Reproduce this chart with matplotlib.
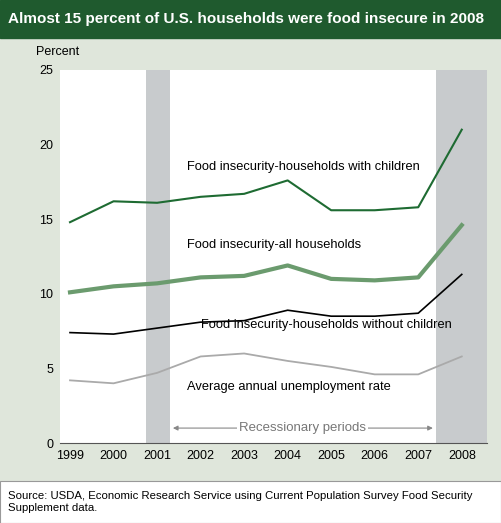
import matplotlib
matplotlib.use("Agg")
import matplotlib.pyplot as plt
from matplotlib.patches import Rectangle

years = [1999, 2000, 2001, 2002, 2003, 2004, 2005, 2006, 2007, 2008]
with_children = [14.8, 16.2, 16.1, 16.5, 16.7, 17.6, 15.6, 15.6, 15.8, 21.0]
all_households = [10.1, 10.5, 10.7, 11.1, 11.2, 11.9, 11.0, 10.9, 11.1, 14.6]
without_children = [7.4, 7.3, 7.7, 8.1, 8.2, 8.9, 8.5, 8.5, 8.7, 11.3]
unemployment = [4.2, 4.0, 4.7, 5.8, 6.0, 5.5, 5.1, 4.6, 4.6, 5.8]
recessions = [(2000.74, 2001.3), (2007.4, 2008.6)]

W, H = 501, 523
fig = plt.figure(figsize=(W/100, H/100), dpi=100)
fig.patch.set_facecolor("#dfe6db")
fig.add_artist(Rectangle((0, 1-38/H), 1, 38/H, transform=fig.transFigure, color="#1f5a2e"))
fig.text(8/W, 1-19/H, "Almost 15 percent of U.S. households were food insecure in 2008",
         color="white", fontsize=11, fontweight="bold", va="center", family="Liberation Sans")
fig.add_artist(Rectangle((0, 0), 1, 42/H, transform=fig.transFigure, facecolor="white",
                         edgecolor="#999999", lw=0.8))
fig.text(8/W, 21/H, "Source: USDA, Economic Research Service using Current Population Survey Food Security\nSupplement data.",
         fontsize=8.2, va="center", family="Liberation Sans", linespacing=1.3)
fig.text(36/W, 1-52/H, "Percent", fontsize=9, family="Liberation Sans", va="center")

ax = fig.add_axes([60/W, (H-443)/H, (487-60)/W, (443-70)/H])
ax.set_xlim(1998.77, 2008.58)
ax.set_ylim(0, 25)
for a, b in recessions:
    ax.axvspan(a, b, color="#c8cbcd", lw=0)
ax.plot(years, with_children, color="#1e6b32", lw=1.5)
ax.plot(years, all_households, color="#6b9b6e", lw=3)
ax.plot(years, without_children, color="black", lw=1.2)
ax.plot(years, unemployment, color="#aaaaaa", lw=1.3)
fs = 9.3
kw = dict(fontsize=fs, family="Liberation Sans", va="center")
ax.text(2001.69, 18.5, "Food insecurity-households with children", **kw)
ax.text(2001.69, 13.3, "Food insecurity-all households", **kw)
ax.text(2002.0, 7.9, "Food insecurity-households without children", **kw)
ax.text(2001.69, 3.75, "Average annual unemployment rate", **kw)
ax.annotate("", xy=(2001.3, 1.0), xytext=(2007.4, 1.0),
            arrowprops=dict(arrowstyle="<|-|>", color="#888888", lw=0.8, mutation_scale=7))
ax.text(2004.35, 1.0, "Recessionary periods", fontsize=9.5, color="#777777", ha="center", va="center",
        family="Liberation Sans", bbox=dict(facecolor="white", edgecolor="none", pad=1.5))
ax.set_xticks(years)
ax.set_yticks([0, 5, 10, 15, 20, 25])
ax.tick_params(labelsize=9, length=0, pad=5)
for lbl in ax.get_xticklabels() + ax.get_yticklabels():
    lbl.set_family("Liberation Sans")
for s in ["top", "right", "left"]:
    ax.spines[s].set_visible(False)
ax.spines["bottom"].set_color("#555555")
fig.savefig("out.png", dpi=100)
